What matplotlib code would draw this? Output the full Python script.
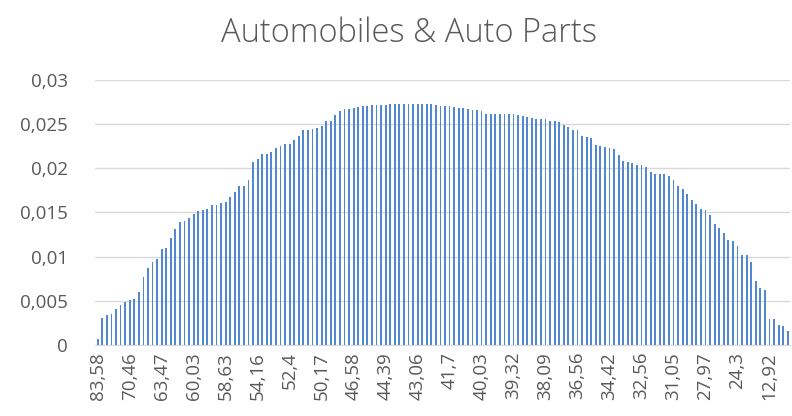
"""
Automobiles & Auto Parts - столбчатая диаграмма
"""
import matplotlib
matplotlib.use('Agg')
import matplotlib.pyplot as plt
from matplotlib.ticker import FuncFormatter

title = 'Automobiles & Auto Parts'

values = [
    0.00065, 0.0031, 0.0034, 0.0035, 0.0041, 0.0045, 0.0049, 0.0051, 0.0052, 0.0060,
    0.0077, 0.0087, 0.0094, 0.0097, 0.0109, 0.0110, 0.0121, 0.0131, 0.0139, 0.0140,
    0.0144, 0.0148, 0.0152, 0.0153, 0.0154, 0.0158, 0.0159, 0.0161, 0.0162, 0.0167,
    0.0173, 0.0180, 0.0180, 0.0187, 0.0207, 0.0211, 0.0216, 0.0216, 0.0219, 0.0223,
    0.0225, 0.0228, 0.0228, 0.0232, 0.0237, 0.0243, 0.0243, 0.0244, 0.0246, 0.0248,
    0.0254, 0.0254, 0.0260, 0.0265, 0.0267, 0.0267, 0.0268, 0.0269, 0.0271, 0.0271,
    0.0272, 0.0272, 0.0272, 0.0272, 0.0273, 0.0273, 0.0273, 0.0273, 0.0273, 0.0273,
    0.0273, 0.0273, 0.0273, 0.0273, 0.0272, 0.0271, 0.0271, 0.0271, 0.0269, 0.0268,
    0.0268, 0.0267, 0.0266, 0.0266, 0.0265, 0.0262, 0.0262, 0.0262, 0.0262, 0.0261,
    0.0261, 0.0261, 0.0260, 0.0259, 0.0258, 0.0257, 0.0256, 0.0256, 0.0256, 0.0254,
    0.0254, 0.0253, 0.0249, 0.0247, 0.0243, 0.0243, 0.0237, 0.0235, 0.0234, 0.0226,
    0.0225, 0.0224, 0.0223, 0.0222, 0.0215, 0.0208, 0.0207, 0.0206, 0.0204, 0.0204,
    0.0201, 0.0196, 0.0194, 0.0194, 0.0194, 0.0191, 0.0187, 0.0180, 0.0177, 0.0171,
    0.0164, 0.0160, 0.0154, 0.0153, 0.0147, 0.0137, 0.0133, 0.0127, 0.0119, 0.0118,
    0.0112, 0.0102, 0.0102, 0.0094, 0.0072, 0.0064, 0.0062, 0.0029, 0.0029, 0.0023,
    0.0022, 0.0016,
]

# подписи стоят у каждой 7-й категории
tick_labels = ['83,58', '70,46', '63,47', '60,03', '58,63', '54,16', '52,4', '50,17',
               '46,58', '44,39', '43,06', '41,7', '40,03', '39,32', '38,09', '36,56',
               '34,42', '32,56', '31,05', '27,97', '24,3', '12,92']
tick_step = 7

y_ticks = [0, 0.005, 0.01, 0.015, 0.02, 0.025, 0.03]

text_color = '#595959'
grid_color = '#D9D9D9'
bar_color = '#5288CF'

plt.rcParams['font.family'] = ['Open Sans', 'DejaVu Sans']

fig = plt.figure(figsize=(7.92, 4.16), dpi=100)
ax = fig.add_axes([0.1205, 0.1707, 0.877, 0.637])

x = list(range(len(values)))
ax.bar(x, values, width=0.4, color=bar_color, zorder=3)

ax.set_xlim(-0.5, len(values) - 0.5)
ax.set_ylim(0, 0.03)
ax.set_yticks(y_ticks)
ax.yaxis.set_major_formatter(FuncFormatter(lambda v, _: ('%g' % v).replace('.', ',')))
ax.grid(axis='y', color=grid_color, linewidth=1, zorder=0)

ax.set_xticks(x[::tick_step])
ax.set_xticklabels(tick_labels, rotation=90, fontsize=13.5, color=text_color)
ax.tick_params(axis='x', length=0, pad=5)
ax.tick_params(axis='y', length=0, pad=20, labelsize=13.5, labelcolor=text_color)

for side in ('top', 'right', 'left'):
    ax.spines[side].set_visible(False)
ax.spines['bottom'].set_color(grid_color)

fig.text(0.516, 0.92, title, ha='center', va='center', fontsize=23.5,
         fontweight='light', color=text_color)

fig.savefig('out.png', dpi=100)
